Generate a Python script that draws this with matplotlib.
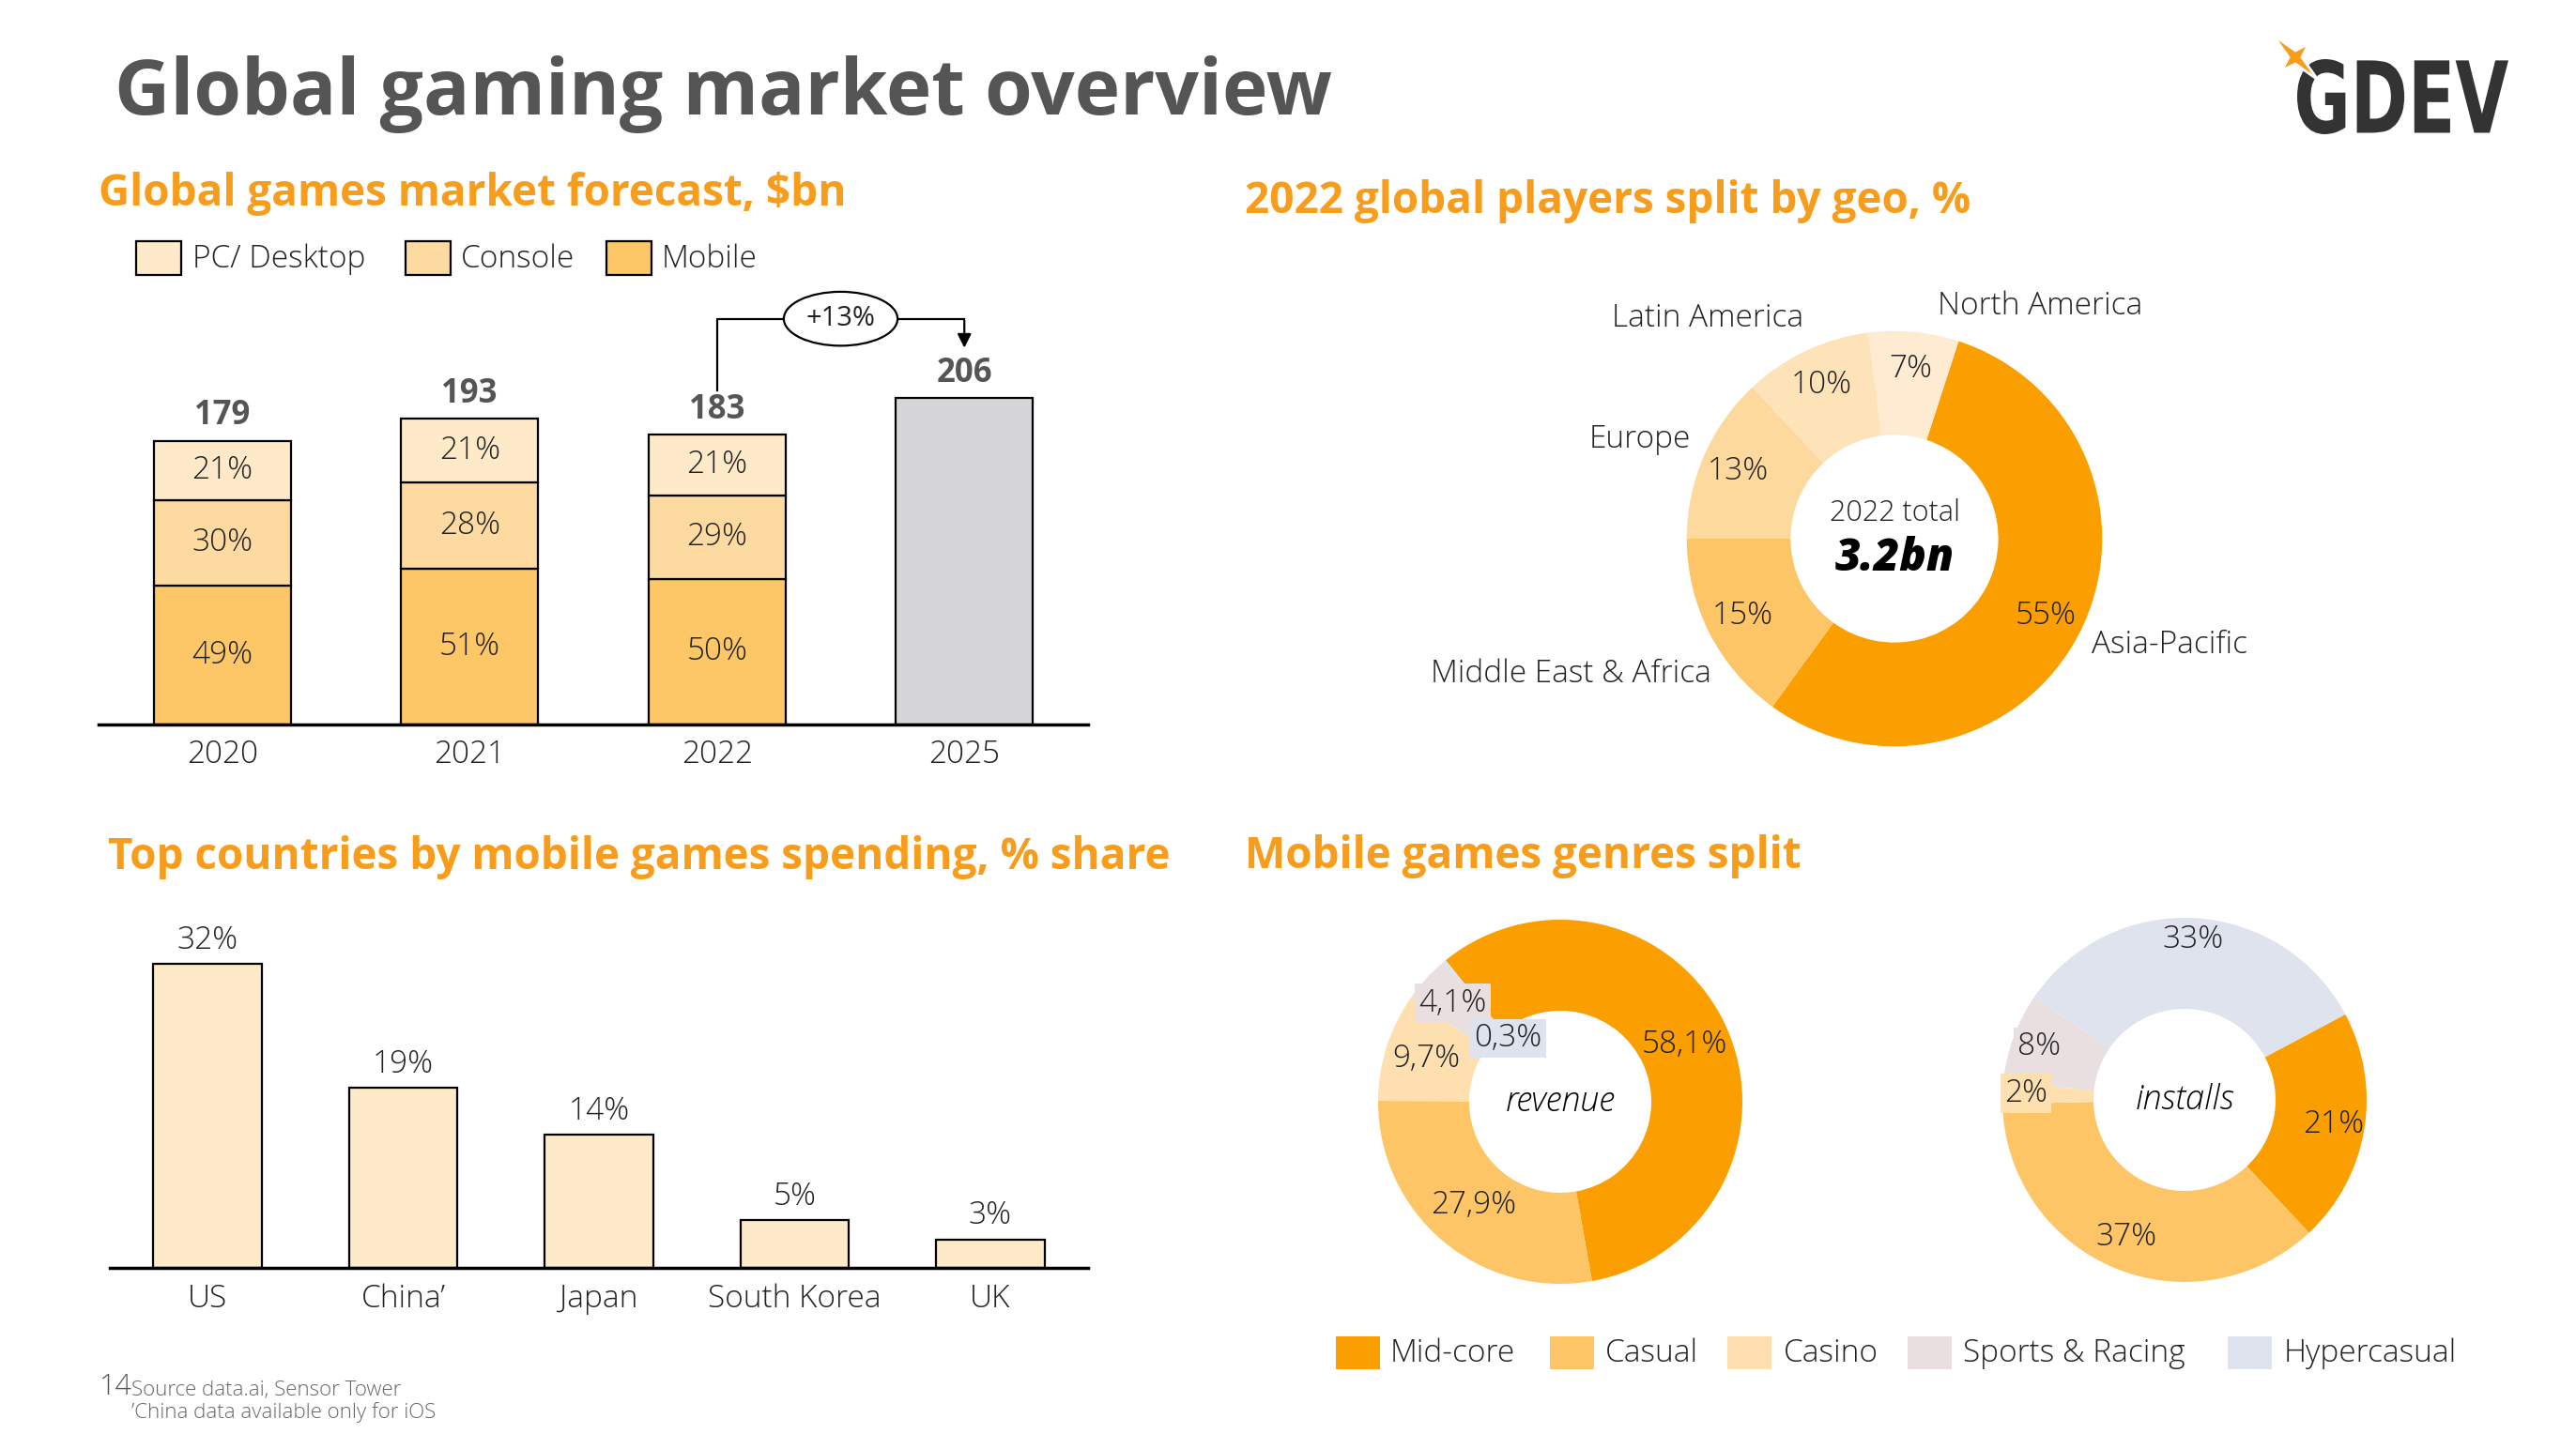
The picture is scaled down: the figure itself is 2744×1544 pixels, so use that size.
import matplotlib
matplotlib.use('Agg')
import matplotlib.pyplot as plt
from matplotlib.patches import Rectangle, Polygon, PathPatch
from matplotlib.textpath import TextPath
from matplotlib.font_manager import FontProperties
from matplotlib.transforms import Affine2D
import numpy as np

plt.rcParams['font.family'] = ['Open Sans', 'DejaVu Sans']

# ---------------- data ----------------
years = ['2020', '2021', '2022', '2025']
totals = [179, 193, 183, 206]
pc_share = [21, 21, 21]
console_share = [30, 28, 29]
mobile_share = [49, 51, 50]
growth_label = '+13%'

geo_regions = ['Asia-Pacific', 'Middle East & Africa', 'Europe', 'Latin America', 'North America']
geo_share = [55, 15, 13, 10, 7]
geo_total_label = '3.2bn'

countries = ['US', "China\u2019", 'Japan', 'South Korea', 'UK']
country_share = [32, 19, 14, 5, 3]

genres = ['Mid-core', 'Casual', 'Casino', 'Sports & Racing', 'Hypercasual']
revenue_share = [58.1, 27.9, 9.7, 4.1, 0.3]
installs_share = [21, 37, 2, 8, 33]

# ---------------- style ----------------
ORANGE_T = '#F89C1C'
GREY_T = '#555555'
TXT = '#222222'
C_PC, C_CON, C_MOB, C_GREY = '#FEEAC9', '#FDDA9F', '#FDC667', '#D6D6D8'
geo_colors = ['#FB9E00', '#FDC566', '#FED99E', '#FEE2B8', '#FEEBD2']
genre_colors = ['#FB9E00', '#FDC566', '#FEE0B0', '#E9DFE0', '#DEE3EE']
BODY = 24
LW = 'light'

W, H = 2744, 1544
fig = plt.figure(figsize=(W / 100, H / 100), dpi=100)
fig.patch.set_facecolor('white')


def fx(x):
    return x / W


def fy(y):
    return 1 - y / H


def rect(x0, y0, x1, y1):
    return [fx(x0), fy(y1), (x1 - x0) / W, (y1 - y0) / H]


def ftext(x, y, s, **kw):
    fig.text(fx(x), fy(y), s, **kw)


def fsquare(x0, y0, w, h, fc, ec='none', lw=0):
    fig.add_artist(Rectangle((fx(x0), fy(y0 + h)), w / W, h / H, transform=fig.transFigure,
                             facecolor=fc, edgecolor=ec, linewidth=lw))


# ---------------- header ----------------
ftext(122, 122, 'Global gaming market overview', fontsize=59, fontweight='bold',
      color=GREY_T, va='baseline', ha='left')

# logo (condensed block lettering)
tp = TextPath((0, 0), 'GDEV', size=100, prop=FontProperties(family='DejaVu Sans', weight='heavy'))
bb = tp.get_extents()
lx0, lx1, ly0, ly1 = 2447, 2672, 63, 143
trans = Affine2D().translate(-bb.x0, -bb.y0).scale((lx1 - lx0) / bb.width, (ly1 - ly0) / bb.height) \
    .translate(lx0, H - ly1)
fig.add_artist(PathPatch(tp, transform=trans, facecolor='#333333', edgecolor='none'))
cx, cy = 2445, 61
arms = [(-1, -1, 34), (1, -1, 20), (1, 1, 34), (-1, 1, 20)]
inner = 7
pts = []
for k, (dx, dy, L) in enumerate(arms):
    n = np.hypot(dx, dy)
    pts.append((cx + dx / n * L, cy + dy / n * L))
    ndx, ndy = arms[(k + 1) % 4][:2]
    mx, my = (dx + ndx), (dy + ndy)
    mn = np.hypot(mx, my)
    pts.append((cx + mx / mn * inner, cy + my / mn * inner))
fig.add_artist(Polygon([(fx(a), fy(b)) for a, b in pts], closed=True, transform=fig.transFigure,
                       facecolor=ORANGE_T, edgecolor='white', linewidth=2))

# section titles
ftext(105, 219, 'Global games market forecast, $bn', fontsize=33, fontweight='bold', color=ORANGE_T, va='baseline')
ftext(1326, 227, '2022 global players split by geo, %', fontsize=33, fontweight='bold', color=ORANGE_T, va='baseline')
ftext(115, 926, 'Top countries by mobile games spending, % share', fontsize=33, fontweight='bold', color=ORANGE_T, va='baseline')
ftext(1326, 925, 'Mobile games genres split', fontsize=33, fontweight='bold', color=ORANGE_T, va='baseline')

# ---------------- chart 1: stacked bars ----------------
ax1 = fig.add_axes(rect(105, 772 - 456, 1159, 772))
x = np.arange(len(years))
bw = 0.555
n_hist = len(mobile_share)
mob = np.array(totals[:n_hist]) * np.array(mobile_share) / 100
con = np.array(totals[:n_hist]) * np.array(console_share) / 100
pcv = np.array(totals[:n_hist]) * np.array(pc_share) / 100
kw = dict(edgecolor='black', linewidth=1.6, width=bw)
ax1.bar(x[:n_hist], mob, color=C_MOB, **kw)
ax1.bar(x[:n_hist], con, bottom=mob, color=C_CON, **kw)
ax1.bar(x[:n_hist], pcv, bottom=mob + con, color=C_PC, **kw)
ax1.bar(x[n_hist:], totals[n_hist:], color=C_GREY, **kw)
for i in range(n_hist):
    for bot, h, s in [(0, mob[i], mobile_share[i]), (mob[i], con[i], console_share[i]),
                      (mob[i] + con[i], pcv[i], pc_share[i])]:
        ax1.text(x[i], bot + h / 2, f'{s}%', ha='center', va='center', fontsize=BODY,
                 fontweight=LW, color=TXT)
for i, t in enumerate(totals):
    ax1.annotate(str(t), (x[i], t), xytext=(0, 6), textcoords='offset points', ha='center',
                 va='bottom', fontsize=25, fontweight='bold', color=GREY_T)
# growth arrow
y_start = totals[2] + 28
y_top = max(totals) + 50
ax1.plot([x[2], x[2], x[3]], [y_start, y_top, y_top], color='black', lw=1.6, clip_on=False)
ax1.annotate('', xy=(x[3], totals[3] + 30), xytext=(x[3], y_top + 0.5),
             arrowprops=dict(arrowstyle='-|>', color='black', lw=1.6, mutation_scale=22),
             annotation_clip=False)
ax1.text((x[2] + x[3]) / 2, y_top, growth_label, ha='center', va='center', fontsize=21,
         color=TXT, bbox=dict(boxstyle='ellipse,pad=0.2', fc='white', ec='black', lw=1.6))
ax1.set_xlim(-0.5, 3.5)
ax1.set_ylim(0, 270)
ax1.set_xticks(x, years)
ax1.tick_params(axis='x', length=0, labelsize=BODY, pad=11, labelcolor=TXT)
for lab in ax1.get_xticklabels():
    lab.set_fontweight(LW)
ax1.set_yticks([])
for s in ['left', 'right', 'top']:
    ax1.spines[s].set_visible(False)
ax1.spines['bottom'].set_linewidth(2.5)
ax1.patch.set_alpha(0)

# legend 1 (manual)
for sx, tx, c, lab in zip([145, 432, 646], [205, 491, 705], [C_PC, C_CON, C_MOB],
                          ['PC/ Desktop', 'Console', 'Mobile']):
    fsquare(sx, 257, 48, 36, c, ec='black', lw=1.6)
    ftext(tx, 276, lab, fontsize=BODY, fontweight=LW, color=TXT, va='center', ha='left')

# ---------------- chart 2: geo donut ----------------
gcx, gcy, R = 2018, 574, 354
ax2 = fig.add_axes(rect(gcx - R, gcy - R, gcx + R, gcy + R))
wedges, _ = ax2.pie(geo_share, colors=geo_colors, startangle=72, counterclock=False, radius=1,
                    wedgeprops=dict(width=0.5, edgecolor='none'))
for wdg, v in zip(wedges, geo_share):
    th = np.deg2rad((wdg.theta1 + wdg.theta2) / 2)
    ax2.text(0.82 * np.cos(th), 0.82 * np.sin(th), f'{v}%', ha='center', va='center',
             fontsize=BODY, fontweight=LW, color=TXT)
geo_label_pos = [(0.95, -0.51, 'left'), (-0.88, -0.65, 'right'), (-0.98, 0.48, 'right'),
                 (-0.90, 1.06, 'center'), (0.70, 1.12, 'center')]
for name, (lx, ly, ha) in zip(geo_regions, geo_label_pos):
    ax2.text(lx, ly, name, ha=ha, va='center', fontsize=BODY, fontweight=LW, color=TXT)
ax2.text(0, 0.12, '2022 total', ha='center', va='center', fontsize=22, fontweight=LW, color=TXT)
ax2.text(0, -0.10, geo_total_label, ha='center', va='center', fontsize=34, fontweight='heavy',
         fontstyle='italic', color='black')
ax2.set_xlim(-1.6, 1.6)
ax2.set_ylim(-1.6, 1.6)
ax2.set_aspect('equal')
ax2.axis('off')

# ---------------- chart 3: countries ----------------
ax3 = fig.add_axes(rect(117, 1351 - 364, 1159, 1351))
xc = np.arange(len(countries))
ax3.bar(xc, country_share, width=0.555, color=C_PC, edgecolor='black', linewidth=1.6)
for i, v in enumerate(country_share):
    ax3.annotate(f'{v}%', (xc[i], v), xytext=(0, 6), textcoords='offset points', ha='center',
                 va='bottom', fontsize=BODY, fontweight=LW, color=TXT)
ax3.set_xlim(-0.5, 4.5)
ax3.set_ylim(0, 36)
ax3.set_xticks(xc, countries)
ax3.tick_params(axis='x', length=0, labelsize=BODY, pad=12, labelcolor=TXT)
for lab in ax3.get_xticklabels():
    lab.set_fontweight(LW)
ax3.set_yticks([])
for s in ['left', 'right', 'top']:
    ax3.spines[s].set_visible(False)
ax3.spines['bottom'].set_linewidth(2.5)
ax3.patch.set_alpha(0)

# ---------------- chart 4: genre donuts ----------------
def genre_donut(cxp, cyp, values, startangle, dists, center_label, boxed):
    r = 194 * 1.25
    ax = fig.add_axes(rect(cxp - r, cyp - r, cxp + r, cyp + r))
    ws, _ = ax.pie(values, colors=genre_colors, startangle=startangle, counterclock=False,
                   radius=1, wedgeprops=dict(width=0.5, edgecolor='none'))
    for wdg, v, d, c, b in zip(ws, values, dists, genre_colors, boxed):
        th = np.deg2rad((wdg.theta1 + wdg.theta2) / 2)
        lab = f'{v:g}'.replace('.', ',') + '%'
        bb_ = dict(boxstyle='square,pad=0.12', fc=c, ec='none') if b else None
        ax.text(d * np.cos(th), d * np.sin(th), lab, ha='center', va='center', fontsize=BODY,
                fontweight=LW, color=TXT, bbox=bb_)
    ax.text(0, 0, center_label, ha='center', va='center', fontsize=26, fontstyle='italic',
            fontweight=LW, color='black')
    ax.set_xlim(-1.25, 1.25)
    ax.set_ylim(-1.25, 1.25)
    ax.set_aspect('equal')
    ax.axis('off')


genre_donut(1662, 1174, revenue_share, 129, [0.75, 0.74, 0.77, 0.80, 0.45], 'revenue',
            [False, False, False, True, True])
genre_donut(2327, 1172, installs_share, 28, [0.83, 0.82, 0.87, 0.85, 0.88], 'installs',
            [False, False, True, True, False])

# bottom legend (manual)
for sx, tx, c, lab in zip([1423, 1651, 1840, 2032, 2373], [1481, 1710, 1900, 2091, 2433],
                          genre_colors, genres):
    fsquare(sx, 1424, 47, 35, c)
    ftext(tx, 1442, lab, fontsize=BODY, fontweight=LW, color=TXT, va='center', ha='left')

# ---------------- footer ----------------
ftext(106, 1486, '14', fontsize=22, fontweight=LW, color='#555555', va='baseline', ha='left')
ftext(140, 1487, 'Source data.ai, Sensor Tower', fontsize=16, fontweight=LW, color='#666666',
      va='baseline', ha='left')
ftext(140, 1511, "\u2019China data available only for iOS", fontsize=16, fontweight=LW,
      color='#666666', va='baseline', ha='left')

fig.savefig('out.png', dpi=100, facecolor='white')
